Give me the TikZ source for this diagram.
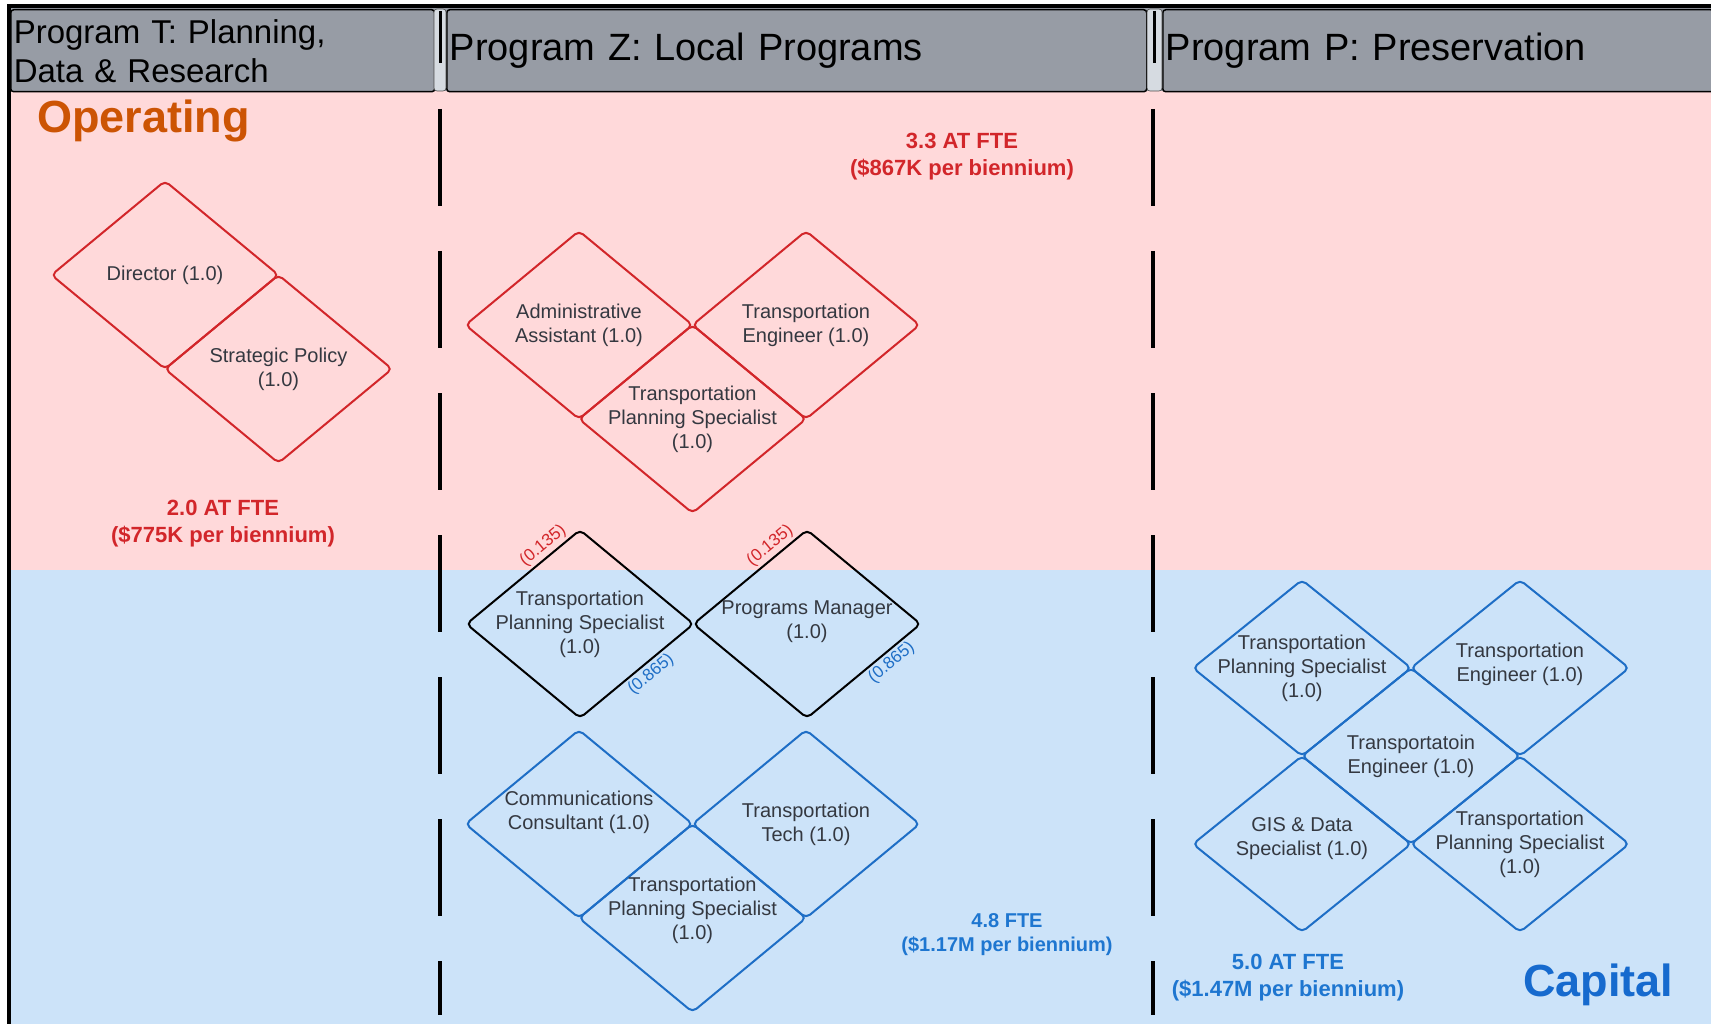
\documentclass[tikz,border=0pt]{standalone}
\usepackage{fontspec}
\setmainfont{Liberation Sans}
\usetikzlibrary{shapes.geometric, positioning}

\definecolor{oppink}{RGB}{255,217,218}
\definecolor{capblue}{RGB}{204,227,249}
\definecolor{hdrgray}{RGB}{151,156,165}
\definecolor{sepgray}{RGB}{214,219,225}
\definecolor{opred}{RGB}{210,38,42}
\definecolor{capline}{RGB}{30,110,198}
\definecolor{captext}{RGB}{30,118,208}
\definecolor{capword}{RGB}{22,106,206}
\definecolor{oporange}{RGB}{204,84,4}
\definecolor{rolegray}{RGB}{52,56,64}

\begin{document}
\begin{tikzpicture}[x=1pt, y=-1pt,
    role/.style={diamond, draw=#1, line width=2pt, rounded corners=5pt, inner sep=0pt, outer sep=0pt, minimum width=227pt, minimum height=188pt},
    small role/.style={role=#1, minimum width=218pt, minimum height=176pt},
    roletext/.style={text=rolegray, font=\fontsize{20}{24}\selectfont, align=center, inner sep=0pt},
    hdr/.style={draw, line width=1.5pt, fill=hdrgray, rounded corners=3pt, anchor=north west, minimum height=82pt, inner xsep=3pt, text width=#1, align=left, font=\fontsize{38}{46}\selectfont},
    total/.style={font=\bfseries\fontsize{22}{27}\selectfont, align=center, text=#1},
    share/.style={font=\fontsize{17}{17}\selectfont, text=#1, sloped, inner sep=3.5pt},
    sep/.style={fill=sepgray, draw=black!70, line width=0.6pt, rounded corners=3pt}]
    \useasboundingbox (0,0) rectangle (1711,1024);
    \fill[oppink] (9,91) rectangle (1711,570);
    \fill[capblue] (9,570) rectangle (1711,1024);
    \fill[hdrgray] (9,6) rectangle (1711,91);
    \draw[line width=3.5pt] (9,1024) -- (9,6) -- (1711,6);

    \node[hdr=418pt, font=\fontsize{33}{39}\selectfont] (hT) at (10,9) {Program T: Planning,\\Data \& Research};
    \node[hdr=694pt] (hZ) at (446,9) {Program Z: Local Programs};
    \node[hdr=545pt] (hP) at (1162,9) {Program P: Preservation};
    \draw[sep] (434,9) rectangle (446,91);
    \draw[sep] (1147,9) rectangle (1162,91);
    \draw[line width=3pt] (440,11) -- (440,63);
    \draw[line width=3pt] (1154,11) -- (1154,63);

    \draw[line width=4pt, dash pattern=on 97pt off 45pt] (440,109) -- (440,1015);
    \draw[line width=4pt, dash pattern=on 97pt off 45pt] (1153,109) -- (1153,1015);

    \node[anchor=base west, inner sep=0pt, text=oporange, font=\bfseries\fontsize{45}{54}\selectfont] (oplbl) at (37,133) {Operating};
    \node[anchor=base west, inner sep=0pt, text=capword, font=\bfseries\fontsize{45}{54}\selectfont] (caplbl) at (1523,996) {Capital};

    \node[role=opred, label={[roletext]center:Director (1.0)}] (dir) at (165,275) {};
    \node[role=opred, below right=0pt of dir, label={[roletext]center:{Strategic Policy\\(1.0)}}] (pol) {};

    \node[role=opred, label={[roletext]center:{Administrative\\Assistant (1.0)}}] (adm) at (579,325) {};
    \node[role=opred, right=0pt of adm, label={[roletext]center:{Transportation\\Engineer (1.0)}}] (eng) {};
    \node[role=opred, below right=0pt of adm, label={[roletext]center:{Transportation\\Planning Specialist\\(1.0)}}] (tps) {};

    \node[role=black, label={[roletext]center:{Transportation\\Planning Specialist\\(1.0)}}] (tpsb) at (580,624) {};
    \node[role=black, right=0pt of tpsb, label={[roletext, yshift=2pt]center:{Programs Manager\\(1.0)}}] (pm) {};
    \path (tpsb.west) -- (tpsb.north) node[share=opred, pos=0.74, above] (sa) {(0.135)};
    \path (tpsb.south) -- (tpsb.east) node[share=capline, pos=0.56, below] (sb) {(0.865)};
    \path (pm.west) -- (pm.north) node[share=opred, pos=0.74, above] (sc) {(0.135)};
    \path (pm.south) -- (pm.east) node[share=capline, pos=0.68, below] (sd) {(0.865)};

    \node[role=capline, label={[roletext, yshift=12pt]center:{Communications\\Consultant (1.0)}}] (com) at (579,824) {};
    \node[role=capline, right=0pt of com, label={[roletext]center:{Transportation\\Tech (1.0)}}] (tech) {};
    \node[role=capline, below right=0pt of com, label={[roletext, yshift=8pt]center:{Transportation\\Planning Specialist\\(1.0)}}] (tpsc) {};

    \node[small role=capline, label={[roletext]center:{Transportation\\Planning Specialist\\(1.0)}}] (tpsp) at (1302,668) {};
    \node[small role=capline, right=0pt of tpsp, label={[roletext, yshift=4pt]center:{Transportation\\Engineer (1.0)}}] (engp) {};
    \node[small role=capline, below right=0pt of tpsp, label={[roletext]center:{Transportatoin\\Engineer (1.0)}}] (tep) {};
    \node[small role=capline, below left=0pt of tep, label={[roletext, yshift=5pt]center:{GIS \& Data\\Specialist (1.0)}}] (gis) {};
    \node[small role=capline, below right=0pt of tep, label={[roletext]center:{Transportation\\Planning Specialist\\(1.0)}}] (tpsq) {};

    \node[total=opred] (totT) at (223,524) {2.0 AT FTE\\(\$775K per biennium)};
    \node[total=opred] (totZ) at (962,157) {3.3 AT FTE\\(\$867K per biennium)};
    \node[total=captext, font=\bfseries\fontsize{20}{24}\selectfont] (totZc) at (1007,935) {4.8 FTE\\(\$1.17M per biennium)};
    \node[total=captext] (totP) at (1288,978) {5.0 AT FTE\\(\$1.47M per biennium)};
\end{tikzpicture}
\end{document}
